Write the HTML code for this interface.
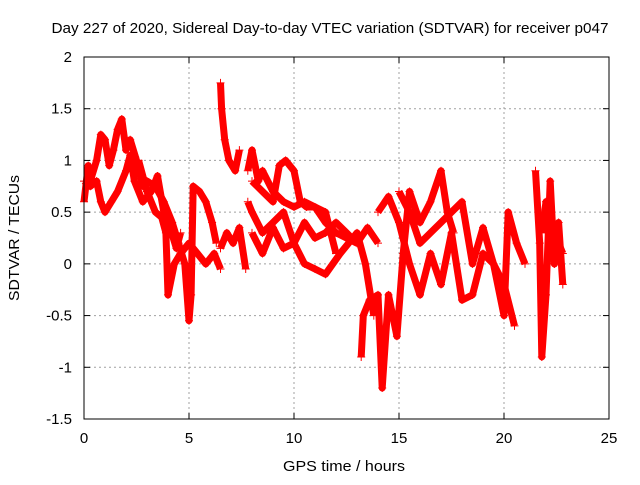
<!DOCTYPE html>
<html><head><meta charset="utf-8"><style>
body{margin:0;background:#fff;}
svg{font-family:"Liberation Sans",sans-serif;font-size:15px;}
</style></head><body>
<svg id="chart" width="640" height="480">
<text x="330" y="33" text-anchor="middle" textLength="557" lengthAdjust="spacingAndGlyphs">Day 227 of 2020, Sidereal Day-to-day VTEC variation (SDTVAR) for receiver p047</text>
<g id="grid"></g>
<g id="axes"></g>
<g id="marks"></g>
<rect x="84" y="57" width="525" height="362" fill="none" stroke="#000"/>
<text x="344" y="471" text-anchor="middle" textLength="122" lengthAdjust="spacingAndGlyphs">GPS time / hours</text>
<text transform="translate(19,238) rotate(-90)" text-anchor="middle" textLength="126" lengthAdjust="spacingAndGlyphs">SDTVAR / TECUs</text>
</svg>
<script>
const xTicks=[0,5,10,15,20,25];
const yTicks=[-1.5,-1,-0.5,0,0.5,1,1.5,2];
const yTickLabels=["-1.5","-1","-0.5","0","0.5","1","1.5","2"];
const trA_t=[0,0.2,0.3,0.6,0.8,1,1.2,1.4,1.6,1.8,2,2.2,2.5,2.8,3,3.4,3.8,4.2,4.5,4.8,5,5.1,5.2,5.5,5.8,6.1,6.3];
const trA_v=[0.6,0.95,0.8,1.0,1.25,1.2,0.95,1.1,1.3,1.4,1.1,1.2,1.0,0.75,0.8,0.75,0.6,0.4,0.2,0.0,-0.55,-0.3,0.75,0.7,0.6,0.4,0.2];
const trB_t=[0,0.3,0.6,0.8,1,1.3,1.6,2,2.2,2.4,2.8,3.2,3.5,3.8,4.1,4.4,4.6];
const trB_v=[0.8,0.75,0.8,0.6,0.5,0.6,0.7,0.9,1.05,0.8,0.6,0.7,0.85,0.5,0.35,0.15,0.3];
const trC_t=[2.6,3,3.4,3.7,3.9,4.0,4.3,4.6,5,5.4,5.8,6.2,6.5];
const trC_v=[1.0,0.7,0.5,0.45,0.3,-0.3,0.0,0.1,0.2,0.1,0.0,0.1,-0.05];
const trD_t=[6.5,6.55,6.7,6.9,7.2,7.4];
const trD_v=[1.75,1.5,1.2,1.0,0.9,1.1];
const trE_t=[6.5,6.8,7.1,7.4,7.7];
const trE_v=[0.15,0.3,0.2,0.35,-0.05];
const trF_t=[7.8,8,8.3,8.5,9,9.5,10,10.5,11,11.5,12,12.5,13];
const trF_v=[0.9,1.1,0.8,0.9,0.7,0.6,0.55,0.6,0.55,0.4,0.3,0.25,0.2];
const trG_t=[7.8,8,8.5,9,9.5,10,10.5,11,11.5,12.2,12.6,13,13.4,13.8];
const trG_v=[0.6,0.5,0.3,0.4,0.5,0.2,0.0,-0.05,-0.1,0.1,0.2,0.3,0.0,-0.5];
const trH_t=[8,8.5,9,9.3,9.6,10,10.3,10.6,11,11.5,12];
const trH_v=[0.8,0.7,0.6,0.95,1.0,0.9,0.6,0.55,0.55,0.5,0.1];
const trI_t=[8,8.5,9,9.5,10,10.5,11,11.5,12,12.5,13,13.5,14];
const trI_v=[0.3,0.1,0.35,0.15,0.2,0.4,0.25,0.3,0.4,0.3,0.2,0.35,0.2];
const trJ_t=[13.2,13.3,13.6,14,14.2,14.5,14.9,15.2,15.5,16,16.5,17,17.3,17.6];
const trJ_v=[-0.9,-0.5,-0.35,-0.3,-1.2,-0.3,-0.7,0.1,0.7,0.4,0.6,0.9,0.5,0.3];
const trK_t=[14,14.5,15,15.5,16,16.5,17,17.5,18,18.5,19,19.5,20,20.2,20.6,21];
const trK_v=[0.5,0.65,0.4,0.0,-0.3,0.1,-0.2,0.3,-0.35,-0.3,0.1,0.0,-0.5,0.5,0.2,0.0];
const trL_t=[15,15.5,16,16.5,17,17.5,18,18.5,19,19.5,20,20.5];
const trL_v=[0.7,0.5,0.2,0.3,0.4,0.5,0.6,0.0,0.35,0.0,-0.2,-0.6];
const trM_t=[21.5,21.7,21.8,22,22.2,22.4,22.6,22.8];
const trM_v=[0.9,0.2,-0.9,-0.3,0.8,0.0,0.4,-0.2];
const trN_t=[21.8,22,22.2,22.4,22.6,22.8];
const trN_v=[0.3,0.6,0.4,0.0,0.2,0.1];
const traces=[[trA_t,trA_v],[trB_t,trB_v],[trC_t,trC_v],[trD_t,trD_v],[trE_t,trE_v],[trF_t,trF_v],[trG_t,trG_v],[trH_t,trH_v],[trI_t,trI_v],[trJ_t,trJ_v],[trK_t,trK_v],[trL_t,trL_v],[trM_t,trM_v],[trN_t,trN_v]];
const X0=84,X1=609,Y0=419,Y1=57;
function xs(t){return X0+(t-0)/25*(X1-X0);}
function ys(v){return Y0-(v+1.5)/3.5*(Y0-Y1);}
const NS="http://www.w3.org/2000/svg";
const grid=document.getElementById('grid'),axes=document.getElementById('axes'),marks=document.getElementById('marks');
function mk(tag,attrs,parent){const e=document.createElementNS(NS,tag);for(const k in attrs)e.setAttribute(k,attrs[k]);parent.appendChild(e);return e;}
xTicks.forEach(t=>{const x=xs(t);
 if(t>0&&t<25){const g=mk('line',{x1:x,x2:x,y1:Y1,y2:Y0,stroke:'#a0a0a0','stroke-dasharray':'2,3'},grid);}
 mk('line',{x1:x,x2:x,y1:Y0,y2:Y0-6,stroke:'#000'},axes);mk('line',{x1:x,x2:x,y1:Y1,y2:Y1+6,stroke:'#000'},axes);
 const l=mk('text',{x:x,y:443,'text-anchor':'middle'},axes);l.textContent=t;
 });
yTicks.forEach((v,i)=>{const y=ys(v);
 if(i>0&&i<yTicks.length-1){const g=mk('line',{x1:X0,x2:X1,y1:y,y2:y,stroke:'#a0a0a0','stroke-dasharray':'2,3'},grid);}
 mk('line',{x1:X0,x2:X0+6,y1:y,y2:y,stroke:'#000'},axes);mk('line',{x1:X1,x2:X1-6,y1:y,y2:y,stroke:'#000'},axes);
 const l=mk('text',{x:72,y:y+5,'text-anchor':'end'},axes);l.textContent=yTickLabels[i];
 });
traces.forEach((tr,k)=>{const [ts,vs]=tr;
 const pts=ts.map((t,i)=>xs(t).toFixed(1)+','+ys(vs[i]).toFixed(1)).join(' ');
 const pl=mk('polyline',{points:pts,fill:'none',stroke:'#f00','stroke-width':7,'stroke-linejoin':'round'},marks);
 
 
 ts.forEach((t,i)=>{const x=xs(t),y=ys(vs[i]);
  const p=mk('path',{d:`M${x-4},${y}H${x+4}M${x},${y-4}V${y+4}`,stroke:'#f00','stroke-width':1},marks);
  
  });
});
</script>
</body></html>
